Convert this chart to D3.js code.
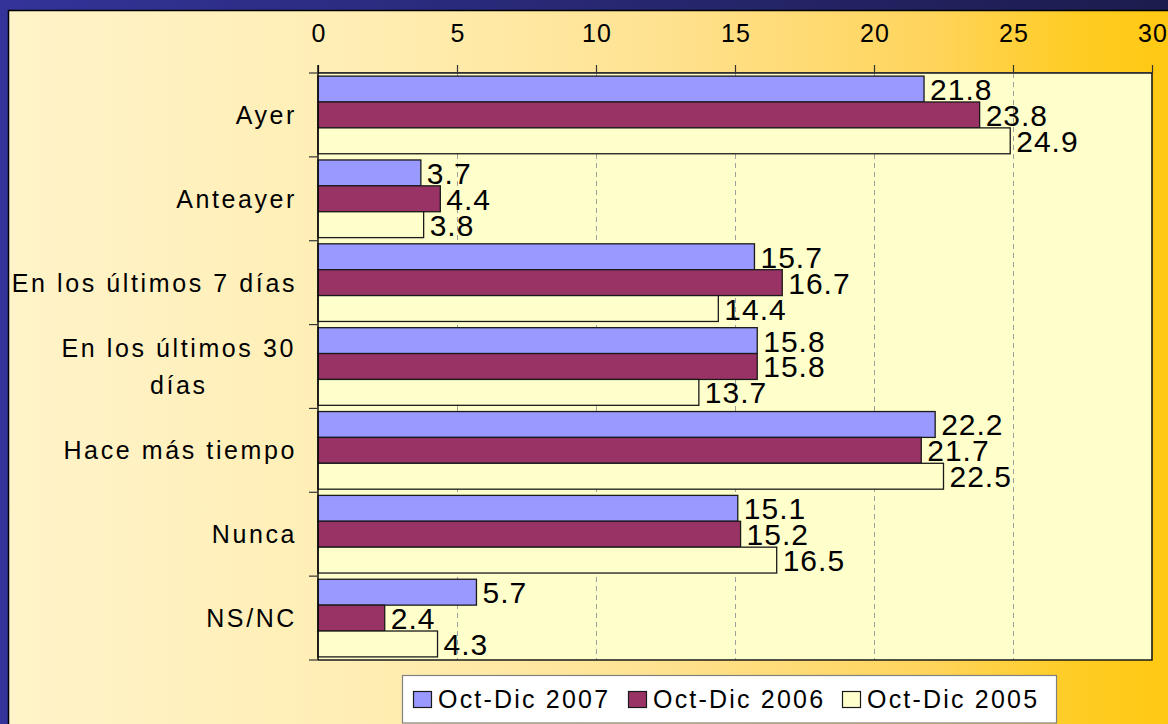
<!DOCTYPE html>
<html>
<head>
<meta charset="utf-8">
<script src="https://cdn.jsdelivr.net/npm/d3@7"></script>
<style>
  html, body { margin: 0; padding: 0; background: #333399; }
  svg { display: block; }
  text { font-family: Arial, "Liberation Sans", sans-serif; fill: #000; }
</style>
</head>
<body>
<svg id="chart" width="1168" height="724"></svg>
<script>
// ---- data ----
const categories = ["Ayer", "Anteayer", "En los últimos 7 días", "En los últimos 30 días", "Hace más tiempo", "Nunca", "NS/NC"];
const categoryLabels = ["Ayer", "Anteayer", "En los últimos 7 días", "En los últimos 30\ndías", "Hace más tiempo", "Nunca", "NS/NC"];
const seriesNames = ["Oct-Dic 2007", "Oct-Dic 2006", "Oct-Dic 2005"];
const values2007 = [21.8, 3.7, 15.7, 15.8, 22.2, 15.1, 5.7];
const values2006 = [23.8, 4.4, 16.7, 15.8, 21.7, 15.2, 2.4];
const values2005 = [24.9, 3.8, 14.4, 13.7, 22.5, 16.5, 4.3];
const tickValues = [0, 5, 10, 15, 20, 25, 30];
const seriesColors = ["#9999FF", "#993366", "#FFFFCC"];

const seriesValues = [values2007, values2006, values2005];

// ---- layout ----
const W = 1168, H = 724;
const plot = { left: 318, right: 1152, top: 73, bottom: 660 };

const svg = d3.select("#chart");
const defs = svg.append("defs");

const bgGrad = defs.append("linearGradient").attr("id", "bgGrad")
  .attr("x1", "0%").attr("x2", "100%").attr("y1", "0%").attr("y2", "0%");
[[0, "#FFF3C9"], [0.3, "#FFEEB4"], [0.55, "#FFE393"], [0.8, "#FFD45A"], [0.92, "#FFCC24"], [1, "#FFC913"]]
  .forEach(([o, c]) => bgGrad.append("stop").attr("offset", o).attr("stop-color", c));

const topGrad = defs.append("linearGradient").attr("id", "topGrad")
  .attr("x1", "0%").attr("x2", "100%").attr("y1", "0%").attr("y2", "0%");
[[0, "#333399"], [1, "#1C1C4E"]]
  .forEach(([o, c]) => topGrad.append("stop").attr("offset", o).attr("stop-color", c));

// frame
svg.append("rect").attr("x", 0).attr("y", 0).attr("width", W).attr("height", H).attr("fill", "#333399");
svg.append("rect").attr("x", 0).attr("y", 0).attr("width", W).attr("height", 10).attr("fill", "url(#topGrad)");
svg.append("rect").attr("x", 8).attr("y", 10).attr("width", W - 8).attr("height", H - 10)
  .attr("fill", "url(#bgGrad)");
svg.append("path").attr("d", `M8.5,${H} V10.5 H${W}`).attr("fill", "none").attr("stroke", "#000").attr("stroke-width", 1.5);

// scales
const x = d3.scaleLinear().domain([0, 30]).range([plot.left, plot.right]);
const y = d3.scaleBand().domain(categories).range([plot.top, plot.bottom]).paddingInner(0).paddingOuter(0);
const yInner = d3.scaleBand().domain(seriesNames).range([0, y.bandwidth()]).paddingInner(0).paddingOuter(0.12);
const color = d3.scaleOrdinal().domain(seriesNames).range(seriesColors);

// plot area
svg.append("rect").attr("x", plot.left).attr("y", plot.top)
  .attr("width", plot.right - plot.left).attr("height", plot.bottom - plot.top)
  .attr("fill", "#FFFFCC");

// grid lines
svg.append("g").selectAll("line").data(tickValues.filter(t => t > 0 && t < 30)).join("line")
  .attr("x1", d => Math.round(x(d)) + 0.5).attr("x2", d => Math.round(x(d)) + 0.5)
  .attr("y1", plot.top).attr("y2", plot.bottom)
  .attr("stroke", "#A0A0A0").attr("stroke-width", 1).attr("stroke-dasharray", "5,4");

// bars
const groups = svg.append("g").selectAll("g").data(categories).join("g")
  .attr("transform", d => `translate(0,${y(d)})`);

groups.each(function (cat, ci) {
  const g = d3.select(this);
  const rows = seriesNames.map((s, si) => ({ s, v: seriesValues[si][ci] }));
  g.selectAll("rect").data(rows).join("rect")
    .attr("x", x(0))
    .attr("y", d => yInner(d.s))
    .attr("width", d => x(d.v) - x(0))
    .attr("height", yInner.bandwidth())
    .attr("fill", d => color(d.s))
    .attr("stroke", "#1a1a1a").attr("stroke-width", 1.3);
});

groups.each(function (cat, ci) {
  const g = d3.select(this);
  const rows = seriesNames.map((s, si) => ({ s, v: seriesValues[si][ci] }));
  g.selectAll("text.val").data(rows).join("text").attr("class", "val")
    .attr("x", d => x(d.v) + 6)
    .attr("y", d => yInner(d.s) + yInner.bandwidth() / 2 + 11)
    .style("font-size", "30px").style("letter-spacing", "1px")
    .text(d => d.v.toFixed(1));
});

// plot border (top, right, bottom)
svg.append("path")
  .attr("d", `M${plot.left},${plot.top} H${plot.right} V${plot.bottom} H${plot.left}`)
  .attr("fill", "none").attr("stroke", "#1a1a1a").attr("stroke-width", 1.6);
svg.append("line").attr("x1", plot.left).attr("x2", plot.right).attr("y1", plot.top - 0.5).attr("y2", plot.top - 0.5)
  .attr("stroke", "#333").attr("stroke-width", 1.2);

// top axis
const xAxis = d3.axisTop(x).tickValues(tickValues).tickSize(8).tickPadding(23).tickFormat(d3.format("d"));
const gx = svg.append("g").attr("transform", `translate(0,${plot.top})`).call(xAxis);
gx.select(".domain").remove();
gx.selectAll(".tick line").attr("stroke", "#333").attr("stroke-width", 1.2);
gx.selectAll(".tick text")
  .style("font-size", "25px").style("letter-spacing", "1px")
  .attr("dx", "0.5");

// left axis
const gy = svg.append("g").attr("transform", `translate(${plot.left},0)`);
gy.append("line").attr("x1", 0).attr("x2", 0).attr("y1", plot.top - 8).attr("y2", plot.bottom)
  .attr("stroke", "#000").attr("stroke-width", 1.4);
const boundaries = categories.map(c => y(c)).concat([plot.bottom]);
gy.selectAll("line.tk").data(boundaries).join("line").attr("class", "tk")
  .attr("x1", -9).attr("x2", 0).attr("y1", d => d).attr("y2", d => d)
  .attr("stroke", "#333").attr("stroke-width", 1.2);

// category labels
const labelG = svg.append("g");
categories.forEach((c, i) => {
  const lines = categoryLabels[i].split("\n");
  const cy = y(c) + y.bandwidth() / 2;
  const lineH = 37;
  const t = labelG.append("text")
    .style("font-size", "25px").style("letter-spacing", "2.6px");
  if (lines.length === 1) {
    t.attr("x", 297).attr("y", cy + 9).attr("text-anchor", "end").text(lines[0]);
  } else {
    const tmp = labelG.append("text").style("font-size", "25px").style("letter-spacing", "2.6px").text(lines[0]);
    const w = tmp.node().getComputedTextLength();
    tmp.remove();
    const cx = 296 - w / 2;
    lines.forEach((ln, li) => {
      t.append("tspan").attr("x", cx).attr("text-anchor", "middle")
        .attr("y", cy + 9 + (li - (lines.length - 1) / 2) * lineH)
        .text(ln);
    });
  }
});

// legend
const legend = svg.append("g");
legend.append("rect").attr("x", 402.5).attr("y", 675.5).attr("width", 654).attr("height", 47.5)
  .attr("fill", "#FFFFFF").attr("stroke", "#808080").attr("stroke-width", 1.2);
const legendX = [413, 628, 842];
seriesNames.forEach((s, i) => {
  legend.append("rect").attr("x", legendX[i] + 0.5).attr("y", 691.5).attr("width", 18).attr("height", 16)
    .attr("fill", color(s)).attr("stroke", "#1a1a1a").attr("stroke-width", 1.2);
  legend.append("text").attr("x", legendX[i] + 25).attr("y", 708)
    .style("font-size", "25px").style("letter-spacing", "2.2px")
    .text(s);
});
</script>
</body>
</html>
